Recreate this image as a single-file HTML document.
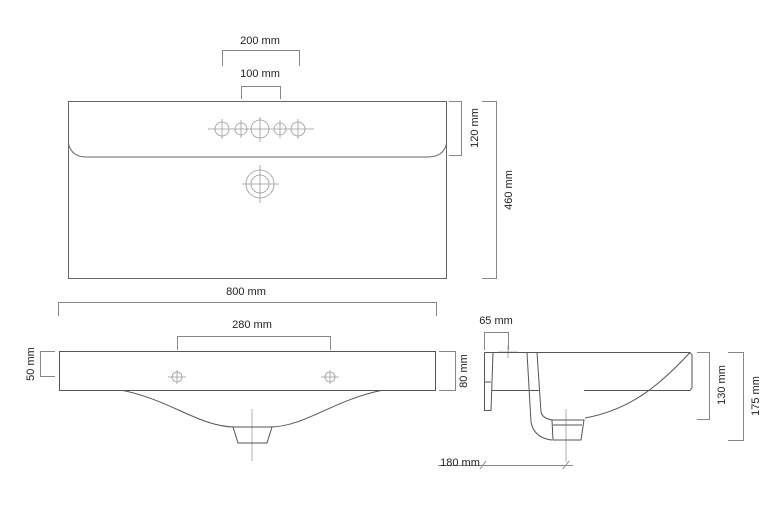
<!DOCTYPE html>
<html><head><meta charset="utf-8"><style>
html,body{margin:0;padding:0;background:#fff;}
svg{display:block;}
text{font-family:"Liberation Sans",sans-serif;font-size:11px;fill:#222;}
</style></head><body>
<svg width="784" height="506" viewBox="0 0 784 506" xmlns="http://www.w3.org/2000/svg">
<g fill="none" stroke="#666" stroke-width="1">
<!-- top view -->
<rect x="68.5" y="101.5" width="378" height="177"/>
<path d="M68.5 144 Q72 157 86 157 L428 157 Q443 157 446.5 144"/>
</g>
<g fill="none" stroke="#999" stroke-width="0.8">
<line x1="208" y1="129" x2="314" y2="129"/>
<circle cx="222" cy="129" r="7"/><line x1="222" y1="119" x2="222" y2="139"/>
<circle cx="241" cy="129" r="6"/><line x1="241" y1="120" x2="241" y2="138"/>
<circle cx="260" cy="129" r="9"/><line x1="260" y1="117" x2="260" y2="142"/>
<circle cx="280" cy="129" r="6"/><line x1="280" y1="120" x2="280" y2="138"/>
<circle cx="298" cy="129" r="7"/><line x1="298" y1="119" x2="298" y2="139"/>
<circle cx="260" cy="184" r="14"/><circle cx="260" cy="184" r="9"/>
<line x1="242" y1="184" x2="279" y2="184"/><line x1="260" y1="165" x2="260" y2="203"/>
<!-- front holes -->
<line x1="168" y1="377" x2="186" y2="377"/><circle cx="177" cy="377" r="5"/><line x1="177" y1="370" x2="177" y2="384"/>
<line x1="321" y1="377" x2="339" y2="377"/><circle cx="330" cy="377" r="5"/><line x1="330" y1="370" x2="330" y2="384"/>
<line x1="252" y1="409" x2="252" y2="461"/>
<line x1="566" y1="409" x2="566" y2="462"/>
<line x1="498" y1="352" x2="518" y2="352"/><line x1="508" y1="345" x2="508" y2="358"/>
</g>
<!-- dimension lines -->
<g fill="none" stroke="#888" stroke-width="1">
<path d="M222.5 66 V50.5 H299.5 V66"/>
<path d="M241.5 99 V86.5 H280.5 V99"/>
<path d="M449 101.5 H461.5 V155.5 H449"/>
<path d="M482 101.5 H496.5 V278.5 H482"/>
<path d="M58.5 316 V302.5 H436.5 V316"/>
<path d="M177.5 350 V336.5 H330.5 V350"/>
<path d="M55 351.5 H40.5 V376.5 H55"/>
<path d="M439 351.5 H455.5 V390.5 H439"/>
<path d="M484.5 350 V332.5 H508.5 V350"/>
<path d="M697 352.5 H709.5 V419.5 H697"/>
<path d="M728 352.5 H743.5 V440.5 H728"/>
<line x1="438" y1="465.5" x2="573" y2="465.5"/>
<line x1="480" y1="469" x2="486" y2="461"/><line x1="563" y1="469" x2="569" y2="461"/>
</g>
<g fill="none" stroke="#555" stroke-width="1">
<!-- front view -->
<rect x="59.5" y="351.5" width="376" height="39"/>
<path d="M123 390.5 C170 400 200 427 235 427"/>
<path d="M381 390.5 C334 400 304 427 270 427"/>
<path d="M233 427 H272 L267 443 H238 Z"/>
<!-- side view -->
<path d="M484.5 352.5 H690 L692 355 V388 L690 390.5 H584"/>
<path d="M540 390.5 H492"/>
<path d="M484.5 352.5 V410.5 H491 L493 352.5"/>
<line x1="484.5" y1="382" x2="491" y2="382"/>
<path d="M690 352.5 C660 385 630 410 585 418"/>
<path d="M527 352.5 L531 422 Q534 438 552 440"/>
<path d="M537 352.5 L541 412 Q542 418 552 420"/>
<path d="M552 420 H584 L581 440 H553 Z"/>
<line x1="553" y1="425" x2="582" y2="425"/>
</g>
<!-- labels -->
<text x="260" y="44" text-anchor="middle">200 mm</text>
<text x="260" y="77" text-anchor="middle">100 mm</text>
<text x="246" y="295" text-anchor="middle">800 mm</text>
<text x="252" y="328" text-anchor="middle">280 mm</text>
<text x="496" y="324" text-anchor="middle">65 mm</text>
<text x="460" y="466" text-anchor="middle">180 mm</text>
<text transform="translate(478,128) rotate(-90)" text-anchor="middle">120 mm</text>
<text transform="translate(512,190) rotate(-90)" text-anchor="middle">460 mm</text>
<text transform="translate(34,364) rotate(-90)" text-anchor="middle">50 mm</text>
<text transform="translate(467,371) rotate(-90)" text-anchor="middle">80 mm</text>
<text transform="translate(725,385) rotate(-90)" text-anchor="middle">130 mm</text>
<text transform="translate(759,396) rotate(-90)" text-anchor="middle">175 mm</text>
</svg>
</body></html>
